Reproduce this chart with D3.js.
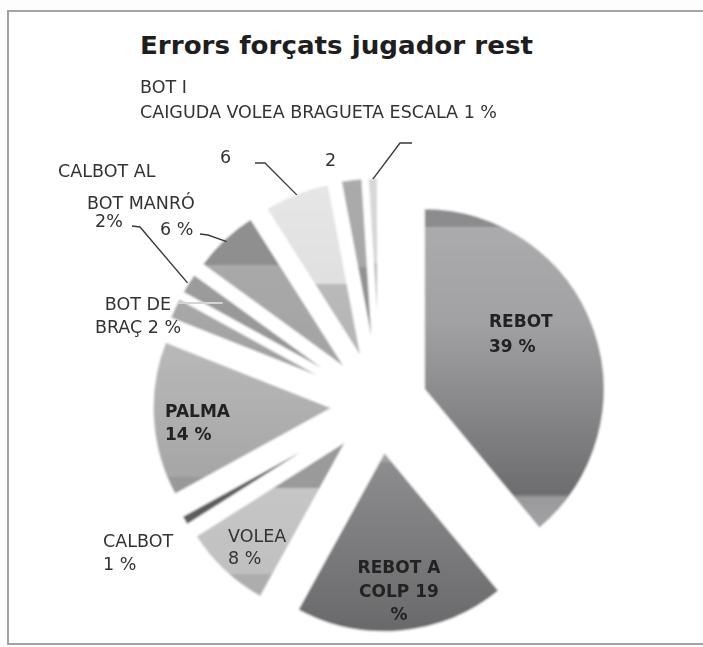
<!DOCTYPE html>
<html>
<head>
<meta charset="utf-8">
<script src="https://cdn.jsdelivr.net/npm/d3@7"></script>
<style>
  body { margin: 0; background: #fdfdfd; }
  svg { display: block; }
  text { font-family: "DejaVu Sans", sans-serif; fill: #2e2e2e; }
</style>
</head>
<body>
<svg id="chart" width="703" height="647"></svg>
<script>
// chart data
const title = 'Errors forçats jugador rest'
const categories = ['REBOT', 'REBOT A COLP', 'VOLEA', 'CALBOT', 'PALMA', 'BOT DE BRAÇ',
  'BOT MANRÓ', 'CALBOT AL', '-', '-', 'BOT I CAIGUDA VOLEA BRAGUETA ESCALA']
const values = [39, 19, 8, 1, 14, 2, 2, 6, 6, 2, 1]
// label text as printed on the chart (Excel overlapped some of them)
const labelLines = [
  ['REBOT', '39 %'],
  ['REBOT A', 'COLP 19', '%'],
  ['VOLEA', '8 %'],
  ['CALBOT', '1 %'],
  ['PALMA', '14 %'],
  ['BOT DE', 'BRAÇ 2 %'],
  ['BOT MANRÓ', '2%'],
  ['6 %'],
  ['CALBOT AL', '6'],
  ['2'],
  ['BOT I', 'CAIGUDA VOLEA BRAGUETA ESCALA 1 %']
]

// ---- layout / style ----
const cx = 380, cy = 405
const radius = 182
const explode = 46

// where each label line sits (x, y, anchor), same shape as labelLines
const labelPos = [
  [[489, 327], [489, 352]],
  [[399, 573, 'middle'], [399, 597, 'middle'], [399, 620, 'middle']],
  [[228, 542], [228, 564]],
  [[103, 547], [103, 570]],
  [[165, 417], [165, 440]],
  [[138, 310, 'middle'], [138, 333, 'middle']],
  [[87, 209], [95, 227]],
  [[160, 235]],
  [[58, 177], [220, 163]],
  [[325, 166]],
  [[140, 93], [140, 118]]
]
const boldLabel = [true, true, false, false, true, false, false, false, false, false, false]

// leader lines: start near label, elbow, then to the slice edge
const leaders = [
  { i: 6, from: [132, 226], elbow: [140, 227], inset: 0 },
  { i: 7, from: [200, 234], elbow: [208, 235], inset: 4 },
  { i: 8, from: [255, 163], elbow: [265, 163], inset: 2 },
  { i: 10, from: [412, 143], elbow: [400, 143], inset: 2 }
]

// band-like vertical shading of each slice (fractions of the slice height)
const shades = [
  [[0, '#8c8c8f'], [0.06, '#8c8c8f'], [0.06, '#ababae'], [0.35, '#a2a2a5'], [0.89, '#6d6d70'], [0.9, '#9a9a9d'], [1, '#a3a3a6']],
  [[0, '#a3a3a3'], [0.06, '#a3a3a3'], [0.06, '#8d8d8f'], [1, '#69696b']],
  [[0, '#9a9a9a'], [0.31, '#9a9a9a'], [0.31, '#c6c6c6'], [0.85, '#c0c0c0'], [0.85, '#adadad'], [1, '#adadad']],
  [[0, '#555555'], [1, '#5e5e5e']],
  [[0, '#b9b9b9'], [0.88, '#a6a6a6'], [0.88, '#999999'], [1, '#999999']],
  [[0, '#a9a9a9'], [1, '#9e9e9e']],
  [[0, '#9c9c9c'], [1, '#949494']],
  [[0, '#8f8f8f'], [0.31, '#8f8f8f'], [0.31, '#a9a9a9'], [1, '#a3a3a3']],
  [[0, '#e6e6e6'], [0.56, '#e0e0e0'], [0.56, '#b9b9b9'], [1, '#b5b5b5']],
  [[0, '#ababab'], [0.49, '#a8a8a8'], [0.49, '#939393'], [1, '#8f8f8f']],
  [[0, '#d9d9d9'], [0.47, '#d5d5d5'], [0.47, '#b9b9b9'], [1, '#b5b5b5']]
]

const svg = d3.select('#chart')
const defs = svg.append('defs')

// outer frame (runs off the right edge like the scan)
svg.append('rect')
  .attr('x', 8).attr('y', 11)
  .attr('width', 720).attr('height', 633)
  .attr('fill', '#ffffff')
  .attr('stroke', '#a3a3a3')
  .attr('stroke-width', 2)

svg.append('text')
  .attr('x', 140).attr('y', 54)
  .attr('textLength', 393).attr('lengthAdjust', 'spacingAndGlyphs')
  .style('font-size', '25px').style('font-weight', 'bold')
  .style('fill', '#1e1e1e')
  .text(title)

defs.append('filter').attr('id', 'soft')
  .attr('x', '-10%').attr('y', '-10%').attr('width', '120%').attr('height', '120%')
  .append('feGaussianBlur').attr('stdDeviation', 1.3)

shades.forEach((stops, i) => {
  const grad = defs.append('linearGradient')
    .attr('id', 'shade' + i)
    .attr('x1', 0).attr('y1', 0).attr('x2', 0).attr('y2', 1)
  stops.forEach(s => grad.append('stop').attr('offset', s[0]).attr('stop-color', s[1]))
})

const pie = d3.pie().sort(null).value(d => d)
const arcs = pie(values)
const arc = d3.arc().innerRadius(0).outerRadius(radius)

const mid = d => (d.startAngle + d.endAngle) / 2
const dir = a => [Math.sin(a), -Math.cos(a)]

const g = svg.append('g')
  .attr('transform', `translate(${cx},${cy})`)

g.append('g')
  .attr('filter', 'url(#soft)')
  .selectAll('path')
  .data(arcs)
  .join('path')
  .attr('transform', d => {
    const [dx, dy] = dir(mid(d))
    return `translate(${dx * explode},${dy * explode})`
  })
  .attr('d', arc)
  .attr('fill', (d, i) => `url(#shade${i})`)
  .attr('stroke', '#ffffff')
  .attr('stroke-width', 3)
  .attr('stroke-linejoin', 'round')

// leader lines
leaders.forEach(l => {
  const a = mid(arcs[l.i])
  const [dx, dy] = dir(a)
  const rr = radius + explode - l.inset
  const end = [cx + dx * rr, cy + dy * rr]
  svg.append('path')
    .attr('d', d3.line()([l.from, l.elbow, end]))
    .attr('fill', 'none')
    .attr('stroke', '#3a3a3a')
    .attr('stroke-width', 1.4)
})
// pale leader of BOT DE BRAÇ running over the slice
{
  const a = mid(arcs[5])
  const [dx, dy] = dir(a)
  const rr = radius + explode
  svg.append('line')
    .attr('x1', cx + dx * rr + 4).attr('y1', cy + dy * rr - 5)
    .attr('x2', cx + dx * rr + 49).attr('y2', cy + dy * rr - 5)
    .attr('stroke', '#d4d4d4')
    .attr('stroke-width', 2)
}

// labels
labelLines.forEach((lines, i) => {
  lines.forEach((t, j) => {
    const p = labelPos[i][j]
    svg.append('text')
      .attr('x', p[0]).attr('y', p[1])
      .attr('text-anchor', p[2] || 'start')
      .style('font-size', boldLabel[i] ? '17px' : '17.5px')
      .style('font-weight', boldLabel[i] ? 'bold' : 'normal')
      .style('fill', boldLabel[i] ? '#222222' : '#333333')
      .text(t)
  })
})
</script>
</body>
</html>
